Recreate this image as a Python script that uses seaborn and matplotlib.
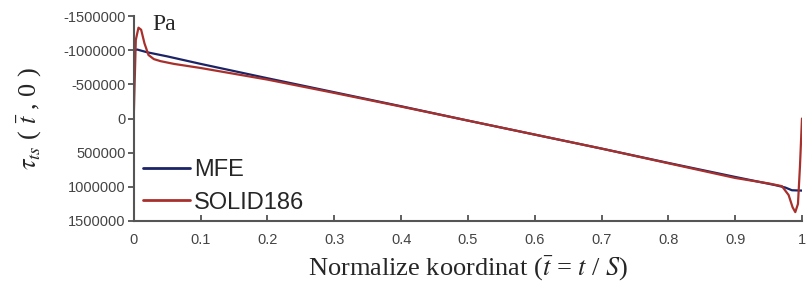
import pandas as pd
import matplotlib
matplotlib.use("Agg")
import matplotlib.pyplot as plt
import seaborn as sns

# Datos (tension cortante a lo largo de la coordenada normalizada)
x_mfe = [0.0, 0.005, 0.02, 0.05, 0.1, 0.2, 0.3, 0.4, 0.5, 0.6, 0.7, 0.8, 0.9, 0.96, 0.975, 0.985, 1.0]
y_mfe = [-1000000, -1010000, -970000, -910000, -800000, -590000, -385000, -180000, 30000,
         235000, 440000, 650000, 855000, 975000, 1010000, 1050000, 1055000]

x_sol = [0.0, 0.003, 0.007, 0.011, 0.016, 0.022, 0.03, 0.04, 0.06, 0.1, 0.2, 0.3, 0.4, 0.5,
         0.6, 0.7, 0.8, 0.9, 0.95, 0.97, 0.98, 0.986, 0.99, 0.994, 0.997, 1.0]
y_sol = [-50000, -1150000, -1330000, -1300000, -1100000, -930000, -870000, -840000, -800000,
         -740000, -570000, -375000, -175000, 30000, 235000, 440000, 655000, 870000, 950000,
         990000, 1120000, 1300000, 1370000, 1250000, 700000, 0]

df = pd.concat([
    pd.DataFrame({"x": x_mfe, "y": y_mfe, "serie": "MFE"}),
    pd.DataFrame({"x": x_sol, "y": y_sol, "serie": "SOLID186"}),
])

sns.set_style("ticks")
plt.rcParams["font.family"] = ["Liberation Sans", "DejaVu Sans"]
plt.rcParams["mathtext.fontset"] = "stix"

fig = plt.figure(figsize=(8.06, 2.87), dpi=100)
ax = fig.add_axes([0.166, 0.230, 0.829, 0.714])

sns.lineplot(data=df, x="x", y="y", hue="serie", sort=False, estimator=None,
             palette={"MFE": "#1c2466", "SOLID186": "#a8302c"}, linewidth=1.6, ax=ax)

ax.set_xlim(0, 1)
ax.set_ylim(1500000, -1500000)
ax.set_xticks([i / 10 for i in range(11)])
ax.set_xticklabels(["0", "0.1", "0.2", "0.3", "0.4", "0.5", "0.6", "0.7", "0.8", "0.9", "1"])
ax.set_yticks([-1500000, -1000000, -500000, 0, 500000, 1000000, 1500000])
ax.set_yticklabels(["-1500000", "-1000000", "-500000", "0", "500000", "1000000", "1500000"])
ax.tick_params(axis="both", labelsize=10.5, colors="#444444", width=1.2)
ax.tick_params(axis="y", direction="out", length=4, pad=2)
ax.tick_params(axis="x", direction="in", length=4, pad=9)

for s in ["top", "right"]:
    ax.spines[s].set_visible(False)
for s in ["left", "bottom"]:
    ax.spines[s].set_color("#555555")
    ax.spines[s].set_linewidth(1.5)

ax.set_xlabel(r"Normalize koordinat ($\bar{t}$ = $t$ / $S$)", fontsize=19,
              family="Liberation Serif", labelpad=5)
ax.set_ylabel(r"$\tau_{ts}$ ( $\bar{t}$ , 0 )", fontsize=19, family="Liberation Serif", labelpad=14)
ax.text(0.028, -1300000, "Pa", fontsize=17, family="Liberation Serif")

leg = ax.legend(loc="lower left", bbox_to_anchor=(0.0, -0.01), frameon=False, fontsize=17,
                handlelength=2.0, handletextpad=0.15, labelspacing=0.45, borderaxespad=0.0)
for h in leg.get_lines():
    h.set_linewidth(2)

fig.savefig("out.png", dpi=100)
